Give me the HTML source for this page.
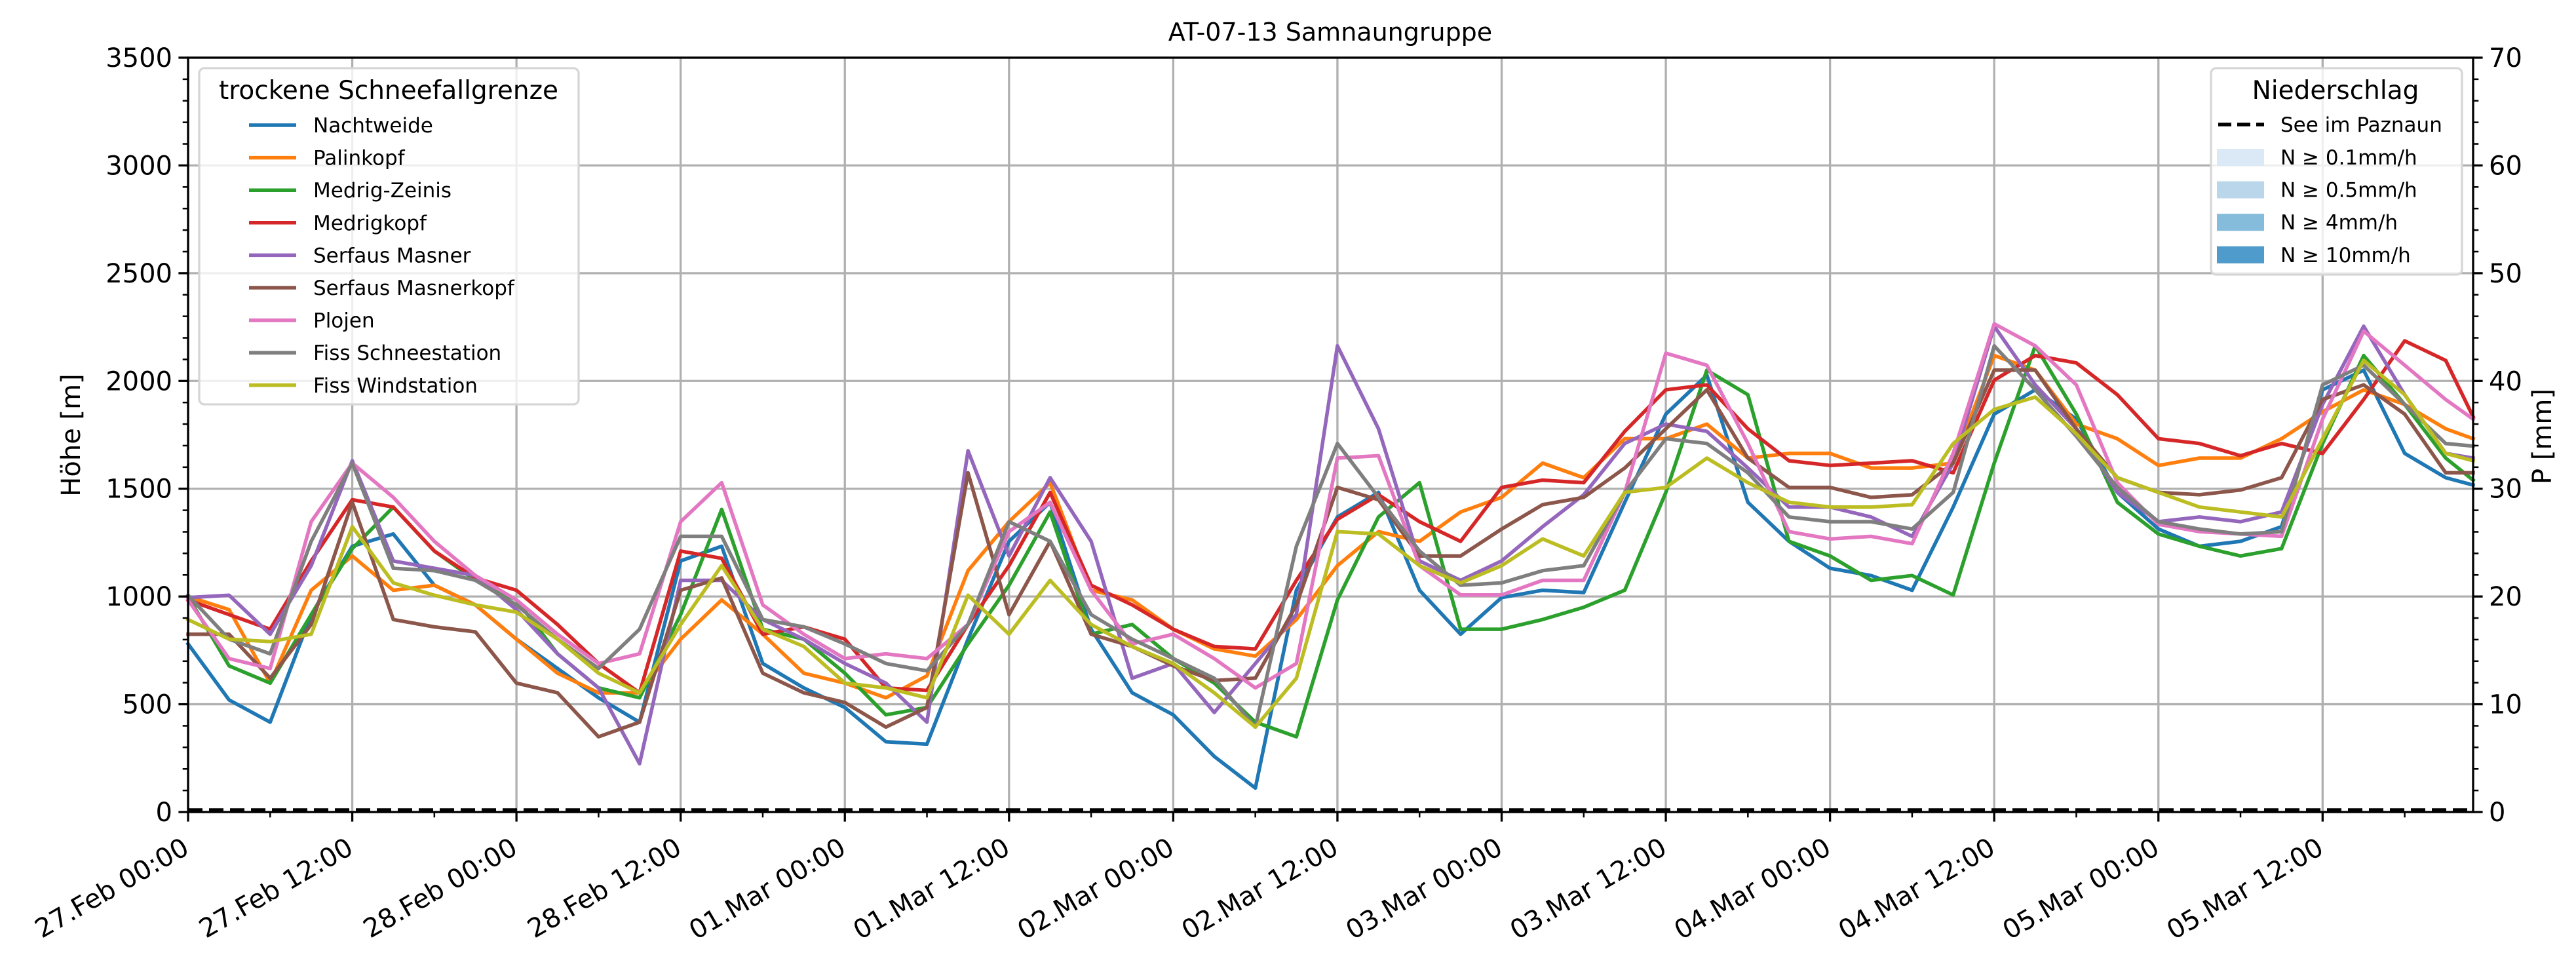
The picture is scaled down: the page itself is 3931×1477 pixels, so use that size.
<!DOCTYPE html>
<html><head><meta charset="utf-8">
<style>
html,body{margin:0;padding:0;background:#fff;}
svg{display:block;font-family:"DejaVu Sans","Liberation Sans",sans-serif;}
</style></head>
<body>
<svg id="chart" width="3931" height="1477" viewBox="0 0 3931 1477" xmlns="http://www.w3.org/2000/svg">
<rect x="0" y="0" width="3931" height="1477" fill="#fff"/>
<g id="grid"></g>
<g id="series"></g>
<g id="axes"></g>
<text x="2030" y="62" text-anchor="middle" font-size="38">AT-07-13 Samnaungruppe</text>
<text transform="translate(122,664) rotate(-90)" text-anchor="middle" font-size="40">Höhe [m]</text>
<text transform="translate(3893,666) rotate(-90)" text-anchor="middle" font-size="40">P [mm]</text>
<g id="legend1"></g>
<g id="legend2"></g>
</svg>
<script>
const hours = [0,3,6,9,12,15,18,21,24,27,30,33,36,39,42,45,48,51,54,57,60,63,66,69,72,75,78,81,84,87,90,93,96,99,102,105,108,111,114,117,120,123,126,129,132,135,138,141,144,147,150,153,156,159,162,165,167];
const stationNames = ["Nachtweide","Palinkopf","Medrig-Zeinis","Medrigkopf","Serfaus Masner","Serfaus Masnerkopf","Plojen","Fiss Schneestation","Fiss Windstation"];
const nachtweide = [780,520,417,916,1233,1290,1052,961,802,666,530,417,1165,1233,689,576,485,326,315,802,1256,1437,848,553,451,258,111,1029,1369,1483,1029,825,995,1029,1018,1437,1846,2027,1437,1256,1131,1097,1029,1415,1846,1959,1823,1483,1313,1233,1256,1324,1959,2050,1664,1551,1517];
const palinkopf = [1000,939,598,1029,1188,1029,1052,961,802,644,553,553,802,984,825,644,598,530,632,1120,1347,1528,1029,984,848,757,723,893,1143,1301,1256,1392,1460,1619,1551,1732,1732,1800,1642,1664,1664,1596,1596,1619,2118,2050,1800,1732,1608,1642,1642,1732,1857,1959,1891,1778,1732];
const medrigZeinis = [1000,678,598,916,1222,1415,1211,1075,984,734,576,530,916,1404,848,802,644,451,485,780,1052,1392,825,870,712,598,417,349,984,1369,1528,848,848,893,950,1029,1483,2050,1936,1256,1188,1075,1097,1007,1619,2163,1846,1437,1290,1233,1188,1222,1710,2118,1891,1642,1540];
const medrigkopf = [984,916,848,1165,1449,1415,1211,1086,1029,870,689,553,1211,1177,825,859,802,576,564,870,1143,1483,1052,961,848,768,757,1075,1358,1472,1347,1256,1506,1540,1528,1766,1959,1982,1778,1630,1608,1619,1630,1574,2004,2118,2084,1936,1732,1710,1653,1710,1664,1914,2186,2095,1834];
const serfausMasner = [995,1006,825,1143,1630,1165,1131,1097,939,734,576,224,1075,1075,893,802,689,598,417,1676,1188,1551,1256,621,689,462,689,916,2163,1778,1165,1075,1165,1324,1472,1710,1800,1766,1596,1415,1415,1369,1279,1619,2254,1982,1778,1483,1347,1369,1347,1392,1891,2254,1936,1664,1642];
const serfausMasnerkopf = [825,825,621,870,1438,893,859,836,598,553,349,417,1029,1086,644,553,508,394,485,1574,916,1256,825,768,678,610,621,961,1506,1449,1188,1188,1313,1426,1460,1596,1778,1959,1642,1506,1506,1460,1472,1619,2050,2050,1778,1551,1483,1472,1494,1551,1914,1982,1846,1574,1574];
const plojen = [984,712,666,1347,1619,1460,1256,1097,984,825,689,734,1347,1528,961,825,712,734,712,870,1301,1437,1029,780,825,712,576,689,1642,1653,1143,1007,1007,1075,1075,1483,2129,2073,1710,1301,1267,1279,1245,1664,2265,2163,1982,1528,1335,1301,1290,1279,1823,2231,2073,1914,1823];
const fissSchneestation = [1006,802,734,1256,1619,1131,1120,1075,961,802,666,848,1279,1279,893,859,780,689,655,870,1347,1256,916,802,712,621,394,1233,1710,1460,1211,1052,1063,1120,1143,1483,1732,1710,1574,1369,1347,1347,1313,1483,2163,1959,1743,1506,1347,1313,1290,1301,1982,2073,1891,1710,1698];
const fissWindstation = [893,802,791,825,1324,1063,1006,961,927,802,644,553,870,1143,848,768,598,576,530,1006,825,1075,870,768,689,553,394,621,1301,1290,1143,1063,1143,1267,1188,1483,1506,1642,1528,1437,1415,1415,1426,1710,1868,1925,1755,1551,1483,1415,1392,1369,1732,2095,1936,1664,1630];
const precipHours = [0,167];
const precipPaznaun = [0,0];
const xTickLabels = ["27.Feb 00:00","27.Feb 12:00","28.Feb 00:00","28.Feb 12:00","01.Mar 00:00","01.Mar 12:00","02.Mar 00:00","02.Mar 12:00","03.Mar 00:00","03.Mar 12:00","04.Mar 00:00","04.Mar 12:00","05.Mar 00:00","05.Mar 12:00"];
const yTicks = [0,500,1000,1500,2000,2500,3000,3500];
const y2Ticks = [0,10,20,30,40,50,60,70];
const precipLegendLabels = ["N ≥ 0.1mm/h","N ≥ 0.5mm/h","N ≥ 4mm/h","N ≥ 10mm/h"];

const seriesList = [nachtweide,palinkopf,medrigZeinis,medrigkopf,serfausMasner,serfausMasnerkopf,plojen,fissSchneestation,fissWindstation];
const colors = ["#1f77b4","#ff7f0e","#2ca02c","#d62728","#9467bd","#8c564b","#e377c2","#7f7f7f","#bcbd22"];
const L=287,R=3774,T=88,B=1239,HMAX=167;
const xs = h => L + (h/HMAX)*(R-L);
const ys = v => B - (v/3500)*(B-T);
const y2s = v => B - (v/70)*(B-T);
const NS="http://www.w3.org/2000/svg";
function mk(tag, attrs, parent){const e=document.createElementNS(NS,tag);for(const k in attrs)e.setAttribute(k,attrs[k]);parent.appendChild(e);return e;}
const grid=document.getElementById('grid'), ser=document.getElementById('series'), ax=document.getElementById('axes');

for(let i=0;i<xTickLabels.length;i++){
  const x=xs(i*12);
  const g=mk('line',{x1:x,x2:x,y1:T,y2:B,stroke:'#b0b0b0','stroke-width':3.3},grid);
  
  
}
yTicks.forEach(v=>{
  const y=ys(v);
  const g=mk('line',{x1:L,x2:R,y1:y,y2:y,stroke:'#b0b0b0','stroke-width':3.3},grid);
  
  
});

seriesList.forEach((arr,si)=>{
  const pts=arr.map((v,i)=>xs(hours[i]).toFixed(1)+','+ys(v).toFixed(1)).join(' ');
  const p=mk('polyline',{points:pts,fill:'none',stroke:colors[si],'stroke-width':5.5,'stroke-linejoin':'round','stroke-linecap':'square'},ser);
  
  
});
{
  const pts=precipPaznaun.map((v,i)=>xs(precipHours[i])+','+(y2s(v)-3)).join(' ');
  const p=mk('polyline',{points:pts,fill:'none',stroke:'#000','stroke-width':5.5,'stroke-dasharray':'22 10'},ser);
  
  
}

const fr=mk('rect',{x:L,y:T,width:R-L,height:B-T,fill:'none',stroke:'#000','stroke-width':3.3},ax);



yTicks.forEach(v=>{
  const y=ys(v);
  const t=mk('line',{x1:L-14.6,x2:L,y1:y,y2:y,stroke:'#000','stroke-width':3.3},ax);
  
  
  const tx=mk('text',{x:L-24,y:y+14,'text-anchor':'end','font-size':40},ax);
  tx.textContent=v;
  
  
});
for(let v=100;v<3500;v+=100){ if(v%500===0)continue;
  const y=ys(v);
  const t=mk('line',{x1:L-8.3,x2:L,y1:y,y2:y,stroke:'#000','stroke-width':2.5},ax);
  
  
}
y2Ticks.forEach(v=>{
  const y=y2s(v);
  const t=mk('line',{x1:R,x2:R+14.6,y1:y,y2:y,stroke:'#000','stroke-width':3.3},ax);
  
  
  const tx=mk('text',{x:R+24,y:y+14,'text-anchor':'start','font-size':40},ax);
  tx.textContent=v;
  
  
});
for(let v=2;v<70;v+=2){ if(v%10===0)continue;
  const y=y2s(v);
  const t=mk('line',{x1:R,x2:R+8.3,y1:y,y2:y,stroke:'#000','stroke-width':2.5},ax);
  
  
}
xTickLabels.forEach((lab,i)=>{
  const x=xs(i*12);
  const t=mk('line',{x1:x,x2:x,y1:B,y2:B+14.6,stroke:'#000','stroke-width':3.3},ax);
  
  
  const tx=mk('text',{x:x+4,y:B+62,'text-anchor':'end','font-size':40,transform:'rotate(-30 '+(x+4)+' '+(B+62)+')'},ax);
  tx.textContent=lab;
  
  
});
for(let h=6;h<HMAX;h+=12){
  const x=xs(h);
  const t=mk('line',{x1:x,x2:x,y1:B,y2:B+8.3,stroke:'#000','stroke-width':2.5},ax);
  
  
}

const lg1=document.getElementById('legend1');
const b1=mk('rect',{x:304,y:104,width:579,height:513,rx:8,fill:'#fff','fill-opacity':0.8,stroke:'#d6d6d6','stroke-width':3.3},lg1);


const t1=mk('text',{x:593,y:151,'text-anchor':'middle','font-size':39},lg1);
t1.textContent='trockene Schneefallgrenze';


stationNames.forEach((n,i)=>{
  const y=191+i*49.6;
  const l=mk('line',{x1:380,x2:452,y1:y,y2:y,stroke:colors[i],'stroke-width':5.5},lg1);
  
  
  const tx=mk('text',{x:478,y:y+11,'font-size':31},lg1);
  tx.textContent=n;
  
  
});
const lg2=document.getElementById('legend2');
const b2=mk('rect',{x:3374,y:104,width:383,height:315,rx:8,fill:'#fff','fill-opacity':0.8,stroke:'#d6d6d6','stroke-width':3.3},lg2);


const t2=mk('text',{x:3564,y:151,'text-anchor':'middle','font-size':39},lg2);
t2.textContent='Niederschlag';


const dl=mk('line',{x1:3385,x2:3455,y1:190,y2:190,stroke:'#000','stroke-width':5.5,'stroke-dasharray':'20 9'},lg2);


const dt=mk('text',{x:3480,y:201,'font-size':31},lg2);
dt.textContent='See im Paznaun';


const pcols=['#dbe9f6','#bad6eb','#85bcdb','#4f9bcb'];
precipLegendLabels.forEach((n,i)=>{
  const y=240+i*49.6;
  const r=mk('rect',{x:3383,y:y-13,width:72,height:26,fill:pcols[i]},lg2);
  
  
  const tx=mk('text',{x:3480,y:y+11,'font-size':31},lg2);
  tx.textContent=n;
  
  
});
</script>
</body></html>
